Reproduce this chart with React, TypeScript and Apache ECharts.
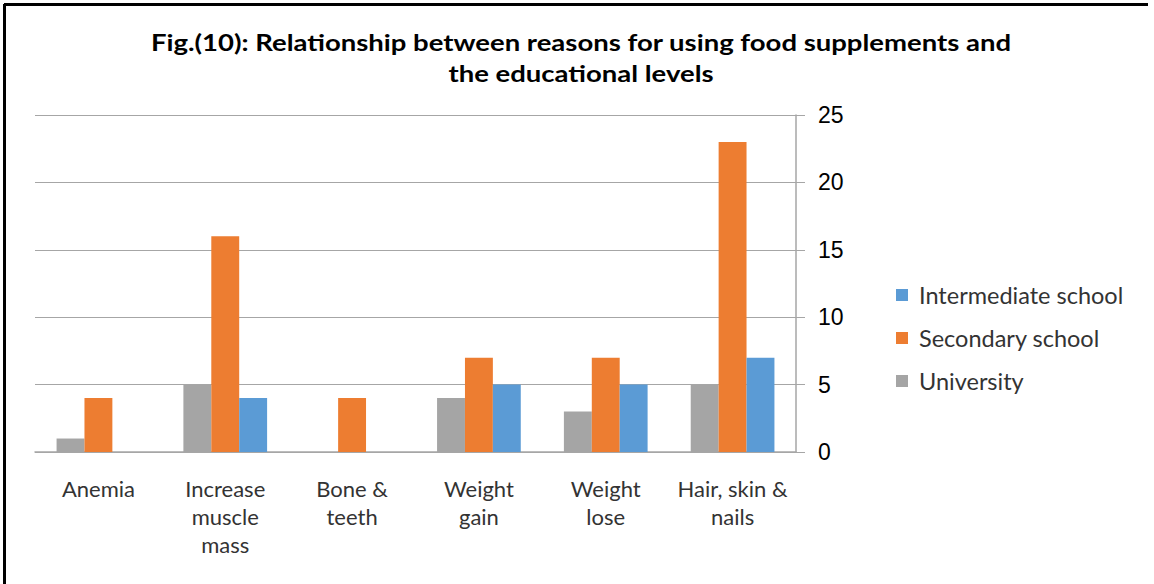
import React, { useEffect, useRef } from "react";
import * as echarts from "echarts";

const categories = ["Anemia", "Increase\nmuscle\nmass", "Bone &\nteeth", "Weight\ngain", "Weight\nlose", "Hair, skin &\nnails"];
const university = [1, 5, 0, 4, 3, 5];
const secondary = [4, 16, 4, 7, 7, 23];
const intermediate = [0, 4, 0, 5, 5, 7];
const legendOrder = ["Intermediate school", "Secondary school", "University"];
const titleLine1 = "Fig.(10): Relationship between reasons for using food supplements and";
const titleLine2 = "the educational levels";

export default function App() {
  const ref = useRef<HTMLDivElement>(null);
  useEffect(() => {
    const chart = echarts.init(ref.current!, undefined, { renderer: "svg" });
    const cat = "Lato";
    const titleStyle = { fontFamily: cat, fontWeight: "bold", fontSize: 22, fill: "#000", textAlign: "center", textVerticalAlign: "middle" };
    chart.setOption({
      animation: false,
      backgroundColor: "#fff",
      legend: {
        data: legendOrder,
        orient: "vertical",
        left: 891,
        top: 278,
        itemWidth: 12,
        itemHeight: 12,
        itemGap: 19,
        icon: "rect",
        textStyle: { fontFamily: cat, fontSize: 23.5, color: "#333", padding: [0, 0, 0, 6] },
      },
      grid: { left: 35, right: 358, top: 115, bottom: 132 },
      xAxis: {
        type: "category",
        data: categories,
        axisLine: { lineStyle: { color: "#a6a6a6", width: 1.5 } },
        axisTick: { show: false },
        axisLabel: { fontFamily: cat, fontSize: 22, color: "#333", lineHeight: 28, margin: 22, interval: 0 },
      },
      yAxis: {
        type: "value",
        position: "right",
        min: 0,
        max: 25,
        interval: 5,
        axisLine: { show: true, lineStyle: { color: "#a6a6a6", width: 1.5 } },
        axisTick: { show: true, inside: false, length: 9, lineStyle: { color: "#a6a6a6" } },
        splitLine: { lineStyle: { color: "#a6a6a6", width: 1 } },
        axisLabel: { fontFamily: "Liberation Sans", fontSize: 23, color: "#000", margin: 22 },
      },
      series: [
        { name: "University", type: "bar", data: university, itemStyle: { color: "#a5a5a5" }, barGap: "0%", barCategoryGap: "34%" },
        { name: "Secondary school", type: "bar", data: secondary, itemStyle: { color: "#ed7d31" }, barGap: "0%", barCategoryGap: "34%" },
        { name: "Intermediate school", type: "bar", data: intermediate, itemStyle: { color: "#5b9bd5" }, barGap: "0%", barCategoryGap: "34%" },
      ],
      graphic: [
        { type: "text", x: 581, y: 42, scaleX: 1.25, style: { text: titleLine1, ...titleStyle } },
        { type: "text", x: 581, y: 73, scaleX: 1.25, style: { text: titleLine2, ...titleStyle } },
        { type: "line", shape: { x1: 4, y1: 4.5, x2: 1148, y2: 4.5 }, style: { stroke: "#000", lineWidth: 3 } },
        { type: "line", shape: { x1: 4.5, y1: 4, x2: 4.5, y2: 584 }, style: { stroke: "#000", lineWidth: 3 } },
      ],
    });
    return () => chart.dispose();
  }, []);
  return <div ref={ref} style={{ width: 1154, height: 584, position: "fixed", left: 0, top: 0 }} />;
}
